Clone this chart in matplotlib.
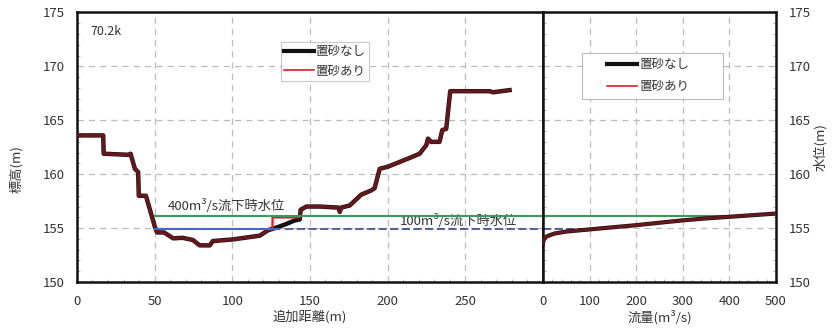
import matplotlib
matplotlib.use("Agg")
import matplotlib.pyplot as plt
from matplotlib.lines import Line2D
from matplotlib.patches import Rectangle
from matplotlib.ticker import MultipleLocator

plt.rcParams['font.family'] = ['Noto Sans CJK JP', 'DejaVu Sans']

# Cross-section at 70.2k: distance (m) and bed elevation (m), no sand placement
dist = [0, 16.9, 17.2, 33.0, 34.5, 37.3, 39.4, 39.8, 44.4, 50.2, 51.6, 56.0,
        62.0, 68.0, 74.6, 79.0, 85.5, 87.5, 100.3, 117.7, 123.0, 129.5, 135.0,
        140.0, 143.4, 144.0, 147.7, 156.3, 168.5, 169.2, 170.0, 175.6, 183.0,
        189.5, 191.6, 194.9, 200.2, 214.0, 220.6, 224.9, 226.0, 228.0, 233.4,
        235.2, 237.7, 240.3, 265.6, 268.0, 278.5]
elev = [163.6, 163.6, 161.9, 161.8, 161.9, 160.5, 160.2, 158.0, 158.0, 155.1,
        154.6, 154.6, 154.05, 154.1, 153.9, 153.4, 153.4, 153.8, 153.95, 154.3,
        154.8, 155.1, 155.4, 155.7, 155.8, 156.7, 157.0, 157.0, 156.9, 156.5,
        156.9, 157.1, 158.1, 158.5, 158.7, 160.5, 160.7, 161.5, 161.9, 162.7,
        163.3, 163.0, 163.0, 164.1, 164.2, 167.7, 167.7, 167.6, 167.8]

# Placed-sand mound (replaces the bed between its ends)
sand_dist = [125.8, 126.0, 143.4]
sand_top = [154.95, 156.0, 156.0]

# Stage-discharge relation
flow = [0, 2, 7, 15, 25, 50, 100, 150, 200, 250, 300, 350, 400, 450, 500]
stage = [153.6, 153.95, 154.2, 154.35, 154.5, 154.68, 154.88, 155.08, 155.27,
         155.5, 155.72, 155.9, 156.05, 156.2, 156.35]

# Water levels for the two discharges
level_400 = 156.1
level_100 = 154.9

# Profile with sand placed
left_part = [(d, e) for d, e in zip(dist, elev) if d < sand_dist[0]]
right_part = [(d, e) for d, e in zip(dist, elev) if d > sand_dist[-1]]
sand_pts = left_part + list(zip(sand_dist, sand_top)) + right_part
dist_sand = [p[0] for p in sand_pts]
elev_sand = [p[1] for p in sand_pts]

BLACK = "#111111"
RED = "#d0202a"
GREEN = "#3a9a5c"
BLUE = "#4a66c8"
NAVY = "#3a4a96"
TXT = "#333333"
FS = 9.5

fig = plt.figure(figsize=(8.32, 3.28), dpi=100)
ax1 = fig.add_axes([0.0925, 0.1402, 0.5601, 0.8217])
ax2 = fig.add_axes([0.6526, 0.1402, 0.2801, 0.8217])

for ax in (ax1, ax2):
    ax.set_ylim(150, 175)
    ax.yaxis.set_major_locator(MultipleLocator(5))
    ax.grid(True, which='major', color="#bbbbbb", linestyle=(0, (5, 4)), linewidth=0.9)
    for s in ax.spines.values():
        s.set_linewidth(1.8)
        s.set_color(BLACK)
    ax.tick_params(which='major', direction='in', length=0, labelsize=FS,
                   labelcolor=TXT, pad=9)
    ax.tick_params(which='minor', direction='in', length=2.5, color="#aaaaaa")
    ax.yaxis.set_minor_locator(MultipleLocator(1))

# Left: cross-section
ax1.set_xlim(0, 300)
ax1.xaxis.set_minor_locator(MultipleLocator(10))
ax1.set_xticks([0, 50, 100, 150, 200, 250])
ax1.plot(dist, elev, color=BLACK, lw=3.2, zorder=3)
# thin red over the thick black reads as a dark maroon where the two coincide
ax1.plot(dist_sand, elev_sand, color=RED, lw=2.4, alpha=0.45, zorder=4)
ax1.plot(sand_dist, sand_top, color=RED, lw=1.2, zorder=4)
ax1.plot([50, 300], [level_400, level_400], color=GREEN, lw=1.5, zorder=5)
ax1.plot([50, 130], [level_100, level_100], color=BLUE, lw=1.5, zorder=5)
ax1.plot([134, 300], [level_100, level_100], color=NAVY, lw=1.2,
         linestyle=(0, (5, 2)), zorder=5)
ax1.text(96, 156.4, "400m³/s流下時水位", ha='center', va='bottom',
         fontsize=FS, color=TXT)
ax1.text(245.5, 155.05, "100m³/s流下時水位", ha='center', va='bottom',
         fontsize=FS, color=TXT)
ax1.text(8.5, 173.2, "70.2k", ha='left', va='center', fontsize=9, color=TXT)
ax1.set_xlabel("追加距離(m)", fontsize=FS, color=TXT, labelpad=2)
ax1.set_ylabel("標高(m)", fontsize=FS, color=TXT)
ax1.yaxis.set_label_coords(-0.115, 0.42)

handles = [Line2D([], [], color=BLACK, lw=3.0), Line2D([], [], color=RED, lw=1.2)]
labels = ["置砂なし", "置砂あり"]
leg1 = ax1.legend(handles, labels, loc='upper left', bbox_to_anchor=(0.437, 0.892),
                  fontsize=9, frameon=True, fancybox=False, edgecolor="#bbbbbb",
                  handlelength=2.4, handletextpad=0.1, borderpad=0.3,
                  labelspacing=0.5, borderaxespad=0)
leg1.get_frame().set_linewidth(0.8)
for t in leg1.get_texts():
    t.set_color(TXT)

# Right: rating curve
ax2.set_xlim(0, 500)
ax2.xaxis.set_major_locator(MultipleLocator(100))
ax2.xaxis.set_minor_locator(MultipleLocator(20))
ax2.plot(flow, stage, color=BLACK, lw=3.0, zorder=3)
ax2.plot(flow, stage, color=RED, lw=2.2, alpha=0.45, zorder=4)
ax2.plot([0, 400], [level_400, level_400], color=GREEN, lw=1.5, zorder=2.5)
ax2.plot([0, 100], [level_100, level_100], color=NAVY, lw=1.2,
         linestyle=(0, (5, 2)), zorder=2.5)
ax2.yaxis.tick_right()
ax2.yaxis.set_label_position('right')
ax2.tick_params(axis='y', which='both', left=True, right=True)
ax2.set_xlabel("流量(m³/s)", fontsize=FS, color=TXT, labelpad=2)
ax2.set_ylabel("水位(m)", fontsize=FS, color=TXT)
ax2.yaxis.set_label_coords(1.16, 0.5)

# Boxed legend with wide inner margin
ax2.add_patch(Rectangle((0.166, 0.678), 0.605, 0.171, transform=ax2.transAxes,
                        facecolor='white', edgecolor="#bbbbbb", lw=0.8, zorder=6))
leg2 = ax2.legend(handles, labels, loc='upper left', bbox_to_anchor=(0.275, 0.83),
                  fontsize=9, frameon=False, handlelength=2.4, handletextpad=0.2,
                  borderpad=0, labelspacing=0.7, borderaxespad=0)
leg2.set_zorder(7)
for t in leg2.get_texts():
    t.set_color(TXT)

fig.savefig("out.png", dpi=100)
